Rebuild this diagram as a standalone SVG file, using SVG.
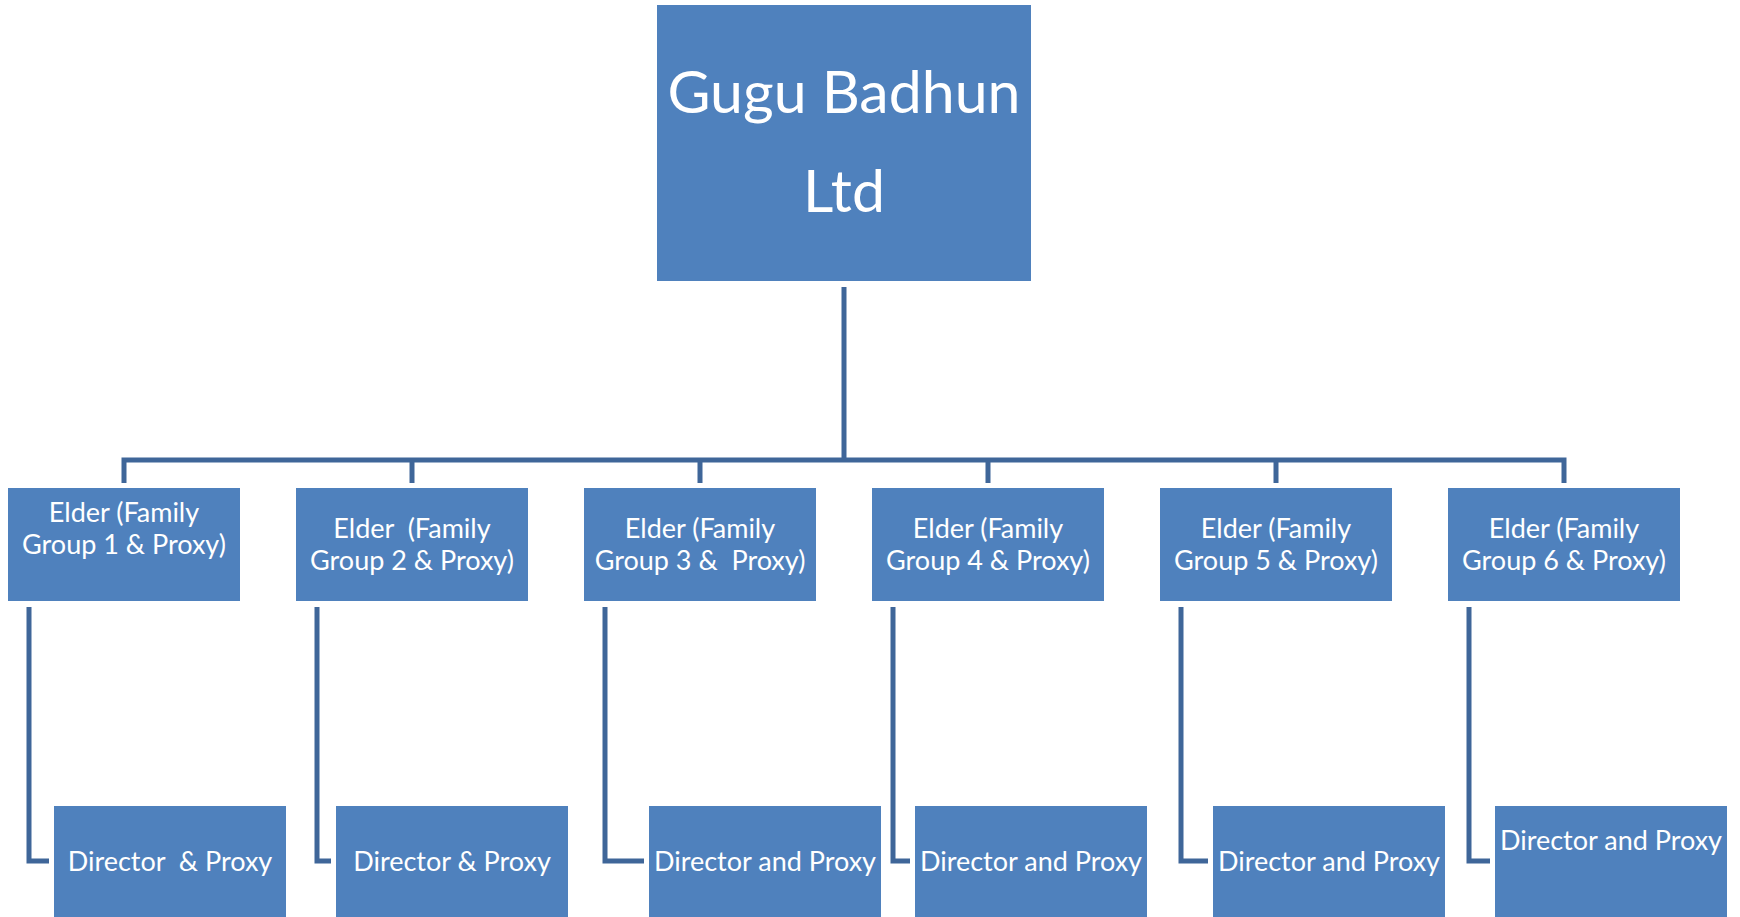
<svg xmlns="http://www.w3.org/2000/svg" width="1740" height="917" viewBox="0 0 1740 917">
<style>
.box{fill:#4F81BD;}
.t{fill:#FFFFFF;font-family:Lato,"Open Sans",sans-serif;font-size:27px;text-anchor:middle;white-space:pre;}
.big{font-size:59px;}
.c{fill:none;stroke:#3F6699;stroke-width:5;stroke-linejoin:miter;}
</style>
<rect width="1740" height="917" fill="#FFFFFF"/>
<g id="connectors">
<path class="c" d="M844 287V460"/>
<path class="c" d="M124 483V460H1564V483"/>
<path class="c" d="M412 460V483M700 460V483M988 460V483M1276 460V483"/>
<path class="c" d="M29 607V861H49"/>
<path class="c" d="M317 607V861H331"/>
<path class="c" d="M605 607V861H644"/>
<path class="c" d="M893 607V861H910"/>
<path class="c" d="M1181 607V861H1208"/>
<path class="c" d="M1469 607V861H1490"/>
</g>
<g id="root">
<rect class="box" x="657" y="5" width="374" height="276"/>
<text class="t big" x="844" y="113">Gugu Badhun</text>
<text class="t big" x="844" y="212">Ltd</text>
</g>
<g id="elder1">
<rect class="box" x="8" y="488" width="232" height="113"/>
<text class="t" x="124" y="522">Elder (Family</text>
<text class="t" x="124" y="554">Group 1 &amp; Proxy)</text>
</g>
<g id="elder2">
<rect class="box" x="296" y="488" width="232" height="113"/>
<text class="t" x="412" y="538">Elder  (Family</text>
<text class="t" x="412" y="570">Group 2 &amp; Proxy)</text>
</g>
<g id="elder3">
<rect class="box" x="584" y="488" width="232" height="113"/>
<text class="t" x="700" y="538">Elder (Family</text>
<text class="t" x="700" y="570">Group 3 &amp;  Proxy)</text>
</g>
<g id="elder4">
<rect class="box" x="872" y="488" width="232" height="113"/>
<text class="t" x="988" y="538">Elder (Family</text>
<text class="t" x="988" y="570">Group 4 &amp; Proxy)</text>
</g>
<g id="elder5">
<rect class="box" x="1160" y="488" width="232" height="113"/>
<text class="t" x="1276" y="538">Elder (Family</text>
<text class="t" x="1276" y="570">Group 5 &amp; Proxy)</text>
</g>
<g id="elder6">
<rect class="box" x="1448" y="488" width="232" height="113"/>
<text class="t" x="1564" y="538">Elder (Family</text>
<text class="t" x="1564" y="570">Group 6 &amp; Proxy)</text>
</g>
<g id="director1">
<rect class="box" x="54" y="806" width="232" height="120"/>
<text class="t" x="170" y="871">Director  &amp; Proxy</text>
</g>
<g id="director2">
<rect class="box" x="336" y="806" width="232" height="120"/>
<text class="t" x="452" y="871">Director &amp; Proxy</text>
</g>
<g id="director3">
<rect class="box" x="649" y="806" width="232" height="120"/>
<text class="t" x="765" y="871">Director and Proxy</text>
</g>
<g id="director4">
<rect class="box" x="915" y="806" width="232" height="120"/>
<text class="t" x="1031" y="871">Director and Proxy</text>
</g>
<g id="director5">
<rect class="box" x="1213" y="806" width="232" height="120"/>
<text class="t" x="1329" y="871">Director and Proxy</text>
</g>
<g id="director6">
<rect class="box" x="1495" y="806" width="232" height="120"/>
<text class="t" x="1611" y="850">Director and Proxy</text>
</g>
</svg>
